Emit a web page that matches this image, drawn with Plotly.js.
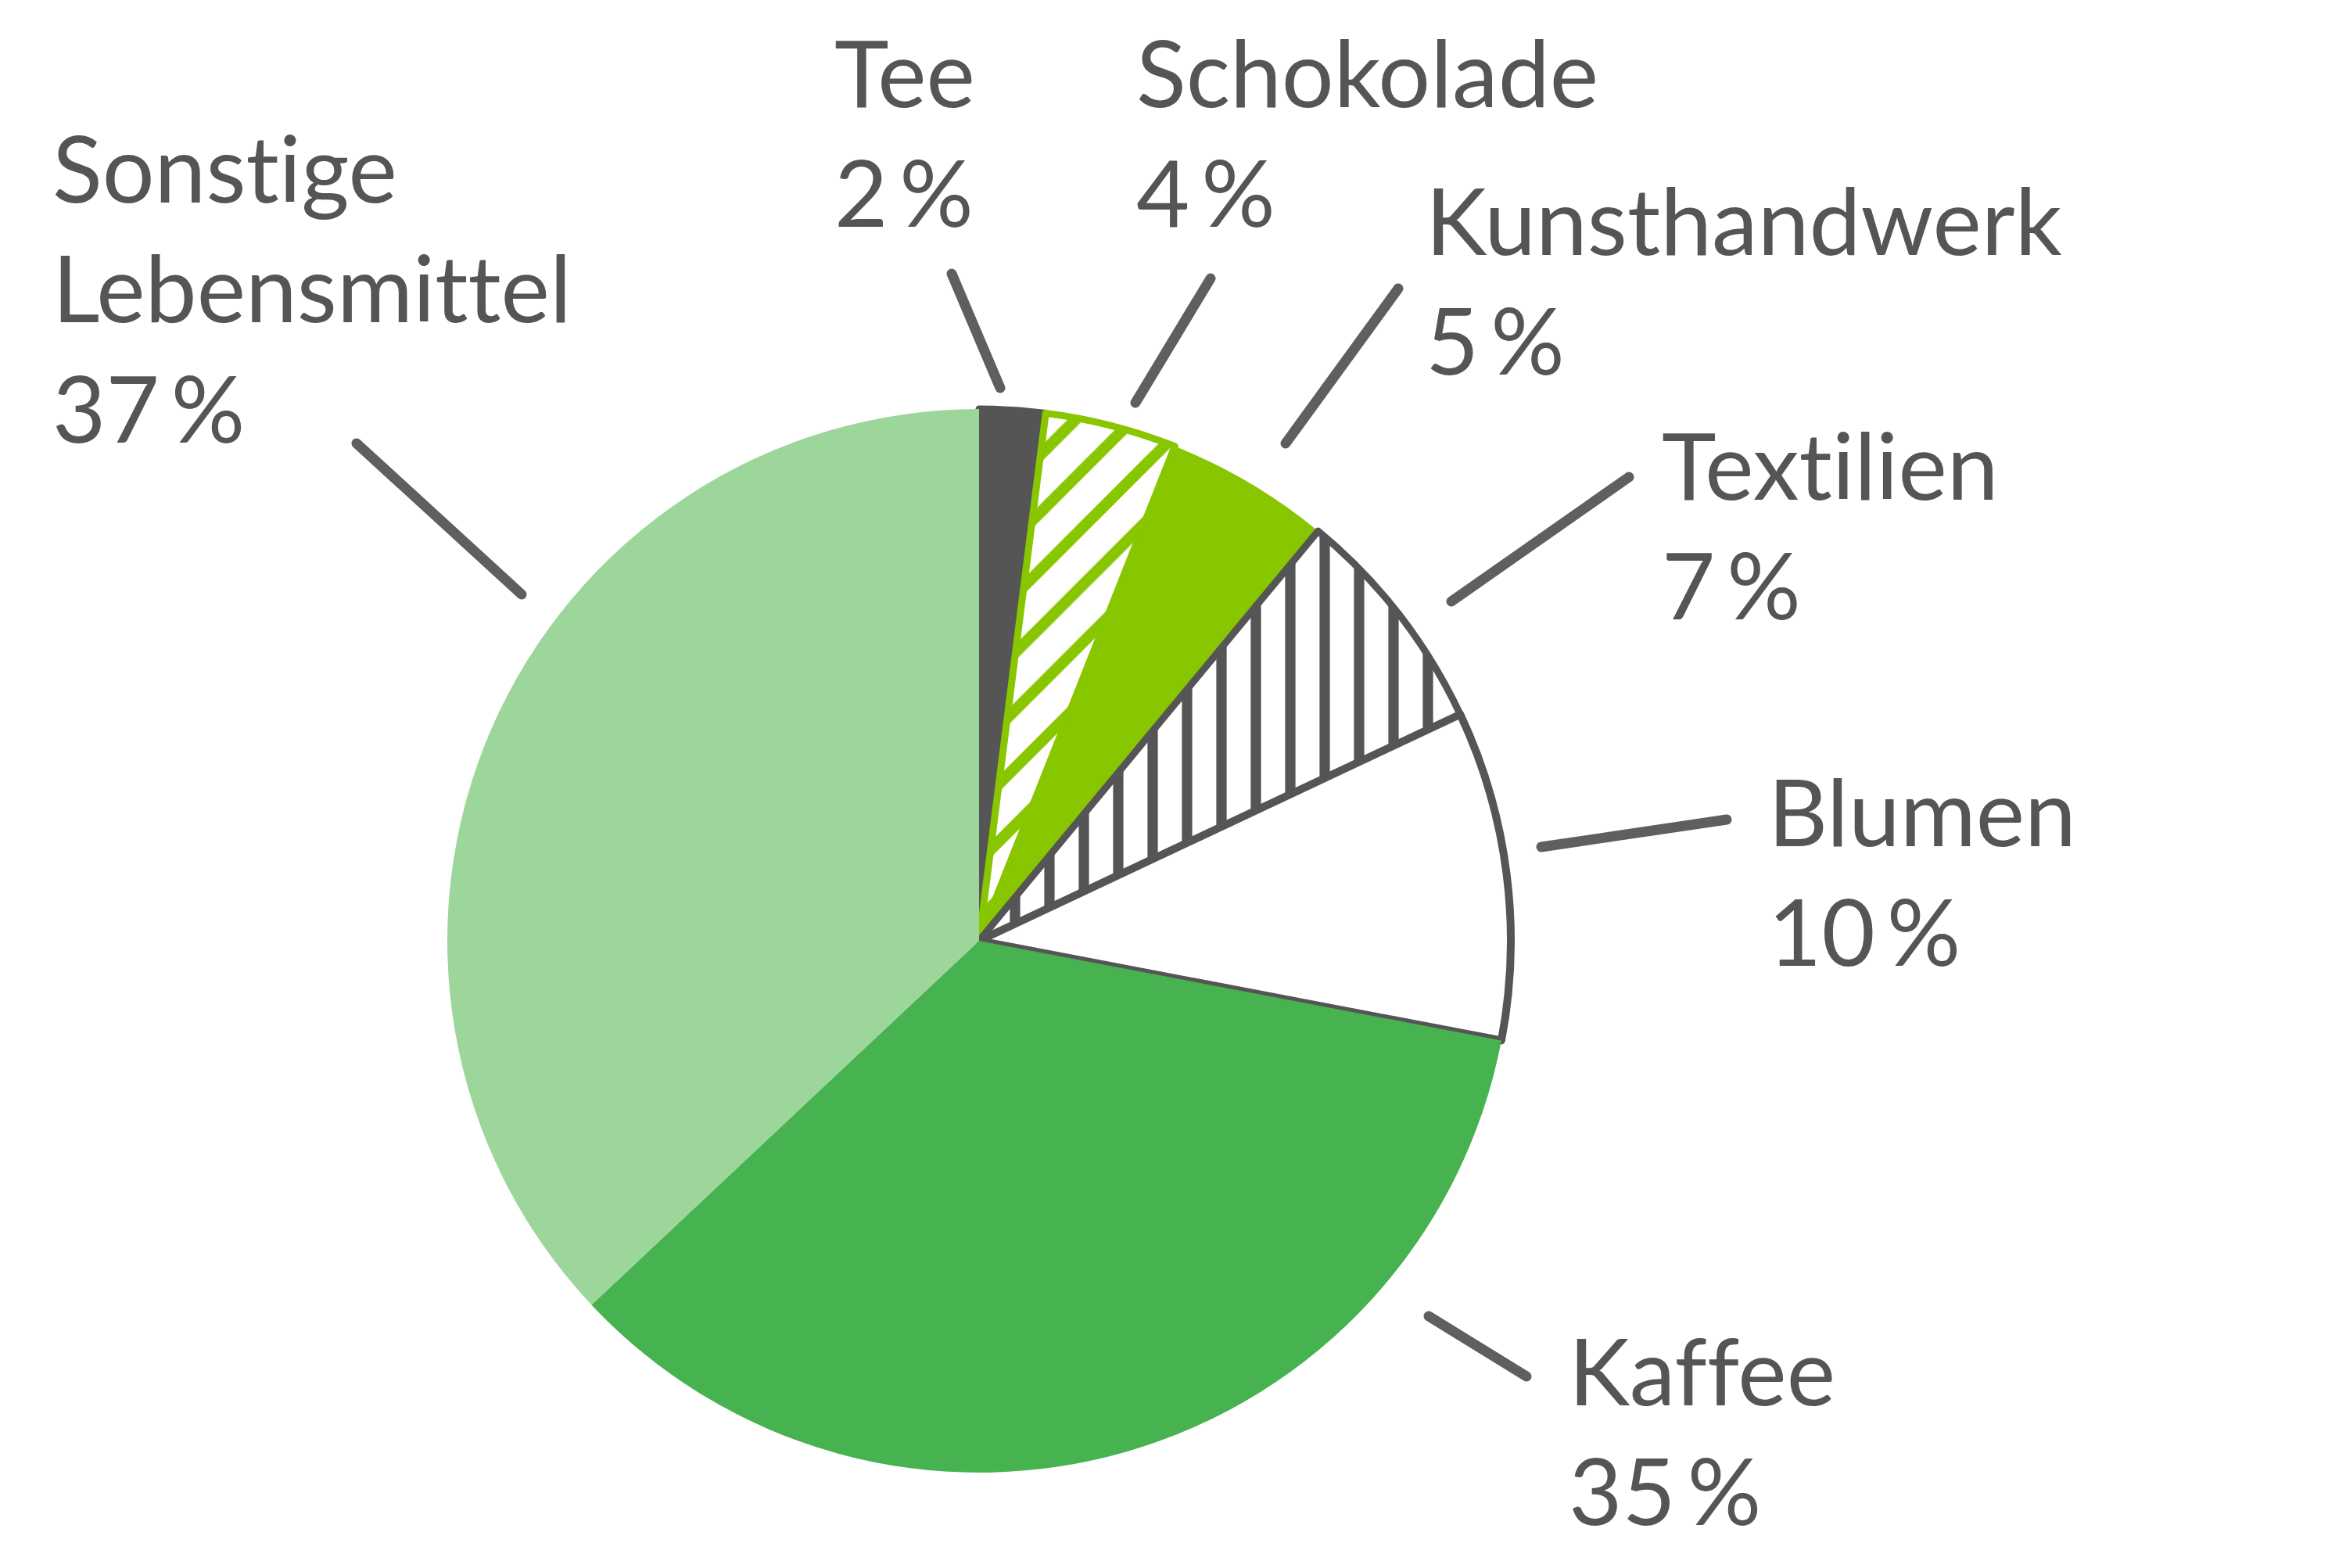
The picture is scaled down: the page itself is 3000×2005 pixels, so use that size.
<!DOCTYPE html>
<html>
<head>
<meta charset="utf-8">
<script src="https://cdn.plot.ly/plotly-3.0.1.min.js"></script>
<style>
  html, body { margin: 0; padding: 0; background: #fff; }
  #chart { width: 3000px; height: 2005px; }
  #chart text { font-variant-ligatures: none; font-feature-settings: "liga" 0, "clig" 0; }
</style>
</head>
<body>
<div id="chart"></div>
<script>
// slices, clockwise from 12 o'clock
var categories = ['Tee', 'Schokolade', 'Kunsthandwerk', 'Textilien', 'Blumen', 'Kaffee', 'Sonstige Lebensmittel'];
var shares = [2, 4, 5, 7, 10, 35, 37];

var fillColors = ['#555555', '#ffffff', '#88c600', '#ffffff', '#ffffff', '#46b250', '#9dd69b'];
var edgeColors = ['#555555', '#88c600', '#88c600', '#555555', '#555555', '#46b250', '#9dd69b'];
var edgeWidths = [9, 9, 0, 9, 10, 0, 0];
var hatchShapes = ['', '/', '', '|', '', '', ''];
var hatchColors = ['#555555', '#88c600', '#88c600', '#555555', '#555555', '#46b250', '#9dd69b'];

// label placement in page pixels (left edge, first baseline)
var labelPos = [[1066, 138], [1452, 138], [1822, 327], [2124, 640], [2260, 1083], [2005, 1798], [66, 260]];
// leader lines in page pixels [x0, y0, x1, y1]
var leaderPos = [
  [1217, 350, 1279, 496],
  [1548, 356, 1452, 515],
  [1788, 369, 1644, 567],
  [2083, 610, 1856, 769],
  [2208, 1048, 1971, 1083],
  [1827, 1683, 1952, 1760],
  [456, 567, 667, 760]
];

var W = 3000, H = 2005;
var fontSize = 118;
var textColor = '#555555';
var cx = 1252, cy = 1203, rad = 680;

var trace = {
  type: 'pie',
  values: shares,
  labels: categories,
  sort: false,
  direction: 'clockwise',
  rotation: 0,
  textinfo: 'none',
  hoverinfo: 'label+percent',
  showlegend: false,
  domain: { x: [(cx - rad) / W, (cx + rad) / W], y: [1 - (cy + rad) / H, 1 - (cy - rad) / H] },
  marker: {
    colors: fillColors,
    line: { color: edgeColors, width: edgeWidths },
    pattern: {
      shape: hatchShapes,
      fgcolor: hatchColors,
      bgcolor: fillColors,
      size: [40, 52, 40, 44, 40, 40, 40],
      solidity: [0.2, 0.28, 0.2, 0.3, 0.2, 0.2, 0.2],
      fillmode: 'replace'
    }
  }
};

var annotations = [];
for (var i = 0; i < categories.length; i++) {
  annotations.push({
    xref: 'paper', yref: 'paper',
    x: labelPos[i][0] / W,
    y: 1 - (labelPos[i][1] - fontSize * 1.0) / H,
    xanchor: 'left', yanchor: 'top', align: 'left',
    showarrow: false,
    borderpad: 0,
    text: categories[i].replace(' ', '<br>') + '<br>' + shares[i] + '\u2009%',
    font: { family: 'Lato, "Open Sans", sans-serif', size: fontSize, color: textColor }
  });
}

var shapes = leaderPos.map(function (p) {
  return {
    type: 'line', xref: 'paper', yref: 'paper',
    x0: p[0] / W, y0: 1 - p[1] / H, x1: p[2] / W, y1: 1 - p[3] / H,
    line: { color: '#5f5f5f', width: 13 }
  };
});

var layout = {
  width: W,
  height: H,
  margin: { t: 0, b: 0, l: 0, r: 0 },
  paper_bgcolor: '#ffffff',
  plot_bgcolor: '#ffffff',
  annotations: annotations,
  shapes: shapes
};

Plotly.newPlot('chart', [trace], layout, { staticPlot: true }).then(function () {
  // rounded ends on the leader lines
  var paths = document.querySelectorAll('.shapelayer path');
  for (var k = 0; k < paths.length; k++) {
    paths[k].style.strokeLinecap = 'round';
  }
  var slices = document.querySelectorAll('.slice path.surface');
  for (var m = 0; m < slices.length; m++) {
    slices[m].style.strokeLinejoin = 'round';
  }
});
</script>
</body>
</html>
